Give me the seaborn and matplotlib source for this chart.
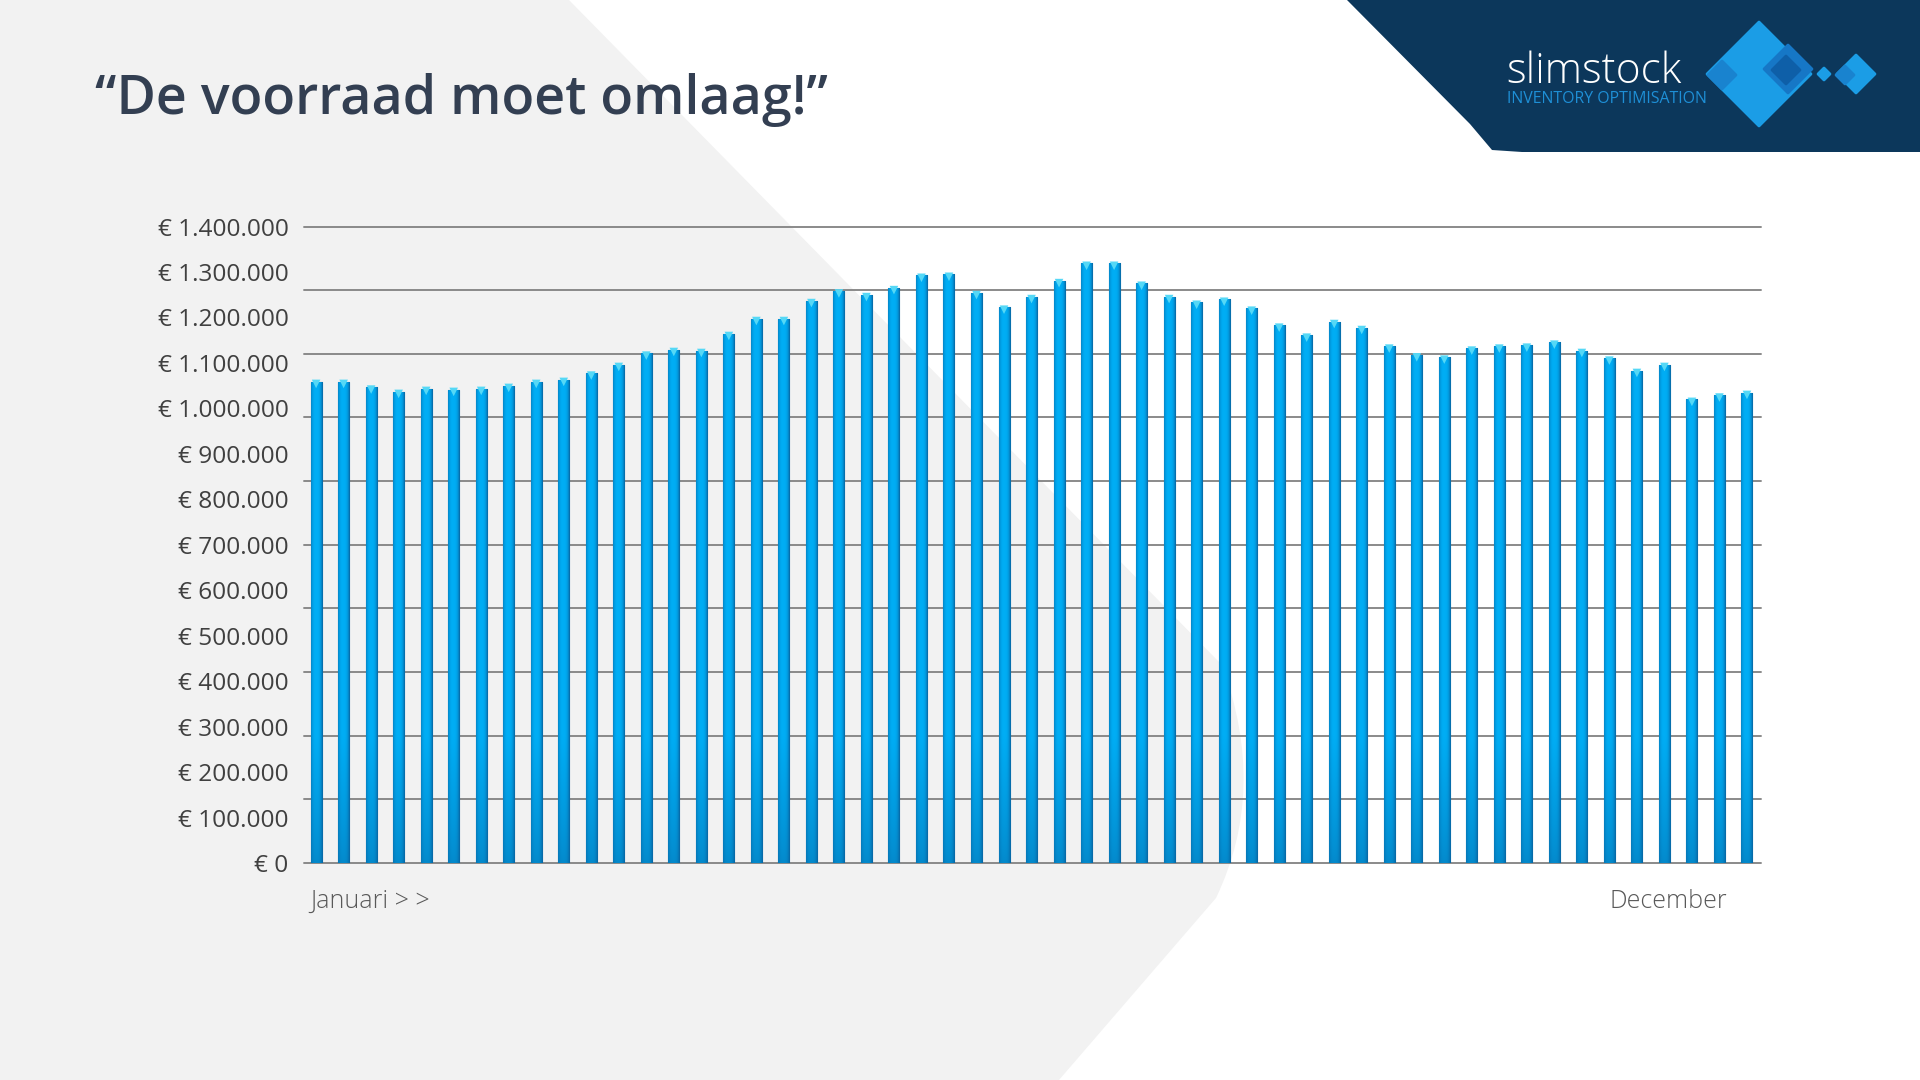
import numpy as np
import pandas as pd
import matplotlib
matplotlib.use("Agg")
import matplotlib.pyplot as plt
import matplotlib.transforms as mtransforms
from matplotlib.patches import Polygon, PathPatch
from matplotlib.path import Path
from matplotlib.ticker import FuncFormatter
import seaborn as sns

# ---------------- data ----------------
weeks = [f"W{i}" for i in range(1, 54)]
stock_value = [
    1059000, 1059000, 1046500, 1037000, 1043600, 1041400, 1043600, 1050200,
    1059000, 1063400, 1077300, 1096300, 1121200, 1129200, 1127000, 1164400,
    1197300, 1197300, 1236800, 1258000, 1250000, 1265300, 1292400, 1294600,
    1254400, 1222200, 1245600, 1280700, 1318800, 1318800, 1274900, 1245600,
    1233100, 1239700, 1220000, 1182700, 1160700, 1190700, 1177500, 1136600,
    1117500, 1112400, 1132200, 1136600, 1138700, 1145300, 1127000, 1110200,
    1083100, 1096300, 1019500, 1029000, 1034800,
]
y_tick_values = list(range(0, 1400001, 100000))
grid_values = list(range(0, 1400001, 140000))
title_text = "\u201cDe voorraad moet omlaag!\u201d"
x_label_start = "Januari > >"
x_label_end = "December"

df = pd.DataFrame({"week": weeks, "value": stock_value})

# ---------------- style ----------------
sns.set_theme(style="white")
plt.rcParams["font.family"] = ["Open Sans", "DejaVu Sans"]

W, H = 1920, 1080
fig = plt.figure(figsize=(19.2, 10.8), dpi=100, facecolor="white")


def fp(x, y):
    return (x / W, 1 - y / H)


# background light-grey shape
verts = [fp(0, 0), fp(569, 0), fp(1222, 665), fp(1268, 790), fp(1216, 898),
         fp(1059, 1080), fp(0, 1080), fp(0, 0)]
codes = [Path.MOVETO, Path.LINETO, Path.LINETO, Path.CURVE3, Path.CURVE3,
         Path.LINETO, Path.LINETO, Path.CLOSEPOLY]
bg = PathPatch(Path(verts, codes), transform=fig.transFigure,
               facecolor="#f2f2f2", edgecolor="none", zorder=-10)
fig.patches.append(bg)

# ---------------- chart ----------------
left, right = 304 / W, 1761 / W
bottom, top = 1 - 863 / H, 1 - 226.5 / H
ax = fig.add_axes([left, bottom, right - left, top - bottom])
ax.set_facecolor("none")

sns.barplot(data=df, x="week", y="value", color="#08a4ec", width=0.4,
            edgecolor="#0a5f98", linewidth=0.8, ax=ax, zorder=3)

# gradient fill for each bar
bright = np.array([0.0, 0.68, 0.96])
dark = np.array([0.03, 0.40, 0.64])
nx, ny = 24, 200
t = np.linspace(0, 1, nx)
h = 1 - np.clip(np.abs(t - 0.45) / 0.55, 0, 1) ** 3
for p in list(ax.patches):
    x0, y0 = p.get_x(), p.get_y()
    w, hh = p.get_width(), p.get_height()
    s = np.linspace(0, 1, ny) * hh / 1400000
    v = 0.5 + 0.5 * np.clip(s / 0.2, 0, 1) ** 0.8
    mix = (v[:, None] * h[None, :])[..., None]
    img = dark + (bright - dark) * mix
    im = ax.imshow(img, extent=(x0, x0 + w, y0, y0 + hh), origin="lower",
                   aspect="auto", zorder=3.5, interpolation="bilinear")
    im.set_clip_path(p)

# light cap at the top of each bar
ax.scatter(np.arange(len(stock_value)), np.array(stock_value) - 5200,
           marker="v", s=38, color="#55d8f6", edgecolor="none", zorder=4)

# horizontal gridlines
for g in grid_values:
    ax.axhline(g, color="#8a8a8a", linewidth=1.4, zorder=1, clip_on=False)

ax.set_xlim(-0.44, len(stock_value) - 0.49)
ax.set_ylim(0, 1400000)

ax.set_yticks(y_tick_values)
ax.yaxis.set_major_formatter(
    FuncFormatter(lambda v, _: "\u20ac " + f"{int(round(v)):,}".replace(",", ".")))
ax.grid(False)
ax.tick_params(axis="y", which="both", length=0, pad=11, labelsize=17.6,
               labelcolor="#404040")
ax.set_xticks([])
ax.set_xlabel("")
ax.set_ylabel("")
for sp in ax.spines.values():
    sp.set_visible(False)

tr = mtransforms.blended_transform_factory(ax.transData, fig.transFigure)
ax.text(-0.22, 1 - 901 / H, x_label_start, transform=tr, ha="left", va="center",
        fontsize=18, fontweight="light", color="#595959")
ax.text(51.27, 1 - 901 / H, x_label_end, transform=tr, ha="right", va="center",
        fontsize=18, fontweight="light", color="#595959")

# ---------------- title ----------------
fig.text(95 / W, 1 - 114 / H, title_text, ha="left", va="baseline",
         fontsize=38.7, fontweight="semibold", color="#333f52")

# ---------------- logo ----------------
navy = [fp(1347, 0), fp(1470, 124), fp(1492, 150), fp(1522, 152),
        fp(1920, 152), fp(1920, 0)]
fig.patches.append(Polygon(navy, closed=True, transform=fig.transFigure,
                           facecolor="#0c375b", edgecolor="none", zorder=5))


def diamond(cx, cy, r, color, z):
    pts = [fp(cx - r, cy), fp(cx, cy - r), fp(cx + r, cy), fp(cx, cy + r)]
    fig.patches.append(Polygon(pts, closed=True, transform=fig.transFigure,
                               facecolor=color, edgecolor=color, linewidth=2,
                               joinstyle="round", zorder=z))


diamond(1759, 74, 52, "#1b9de6", 6)
diamond(1722, 75, 14, "#1983cf", 7)
diamond(1788, 69, 24, "#1677c6", 7)
diamond(1786, 70, 14, "#0e5fa8", 8)
diamond(1824, 74, 6, "#1b9de6", 6)
diamond(1856, 74, 19, "#1b9de6", 6)
diamond(1845, 75, 9, "#1983cf", 7)

fig.text(1506 / W, 1 - 72 / H, "slimstock", ha="left", va="center",
         fontsize=30.5, fontweight="light", color="white", zorder=9)
fig.text(1507 / W, 1 - 99 / H, "INVENTORY OPTIMISATION", ha="left", va="center",
         fontsize=11.4, color="#1e8fd6", zorder=9)

fig.savefig("out.png", dpi=100, facecolor=fig.get_facecolor())
